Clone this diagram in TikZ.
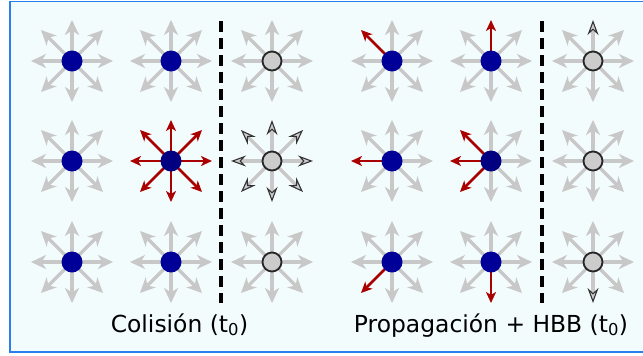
\documentclass[tikz,border=0pt]{standalone}
\usepackage{fontspec}
\setmainfont{DejaVu Sans}
\usetikzlibrary{arrows.meta,calc}
\definecolor{arrgray}{HTML}{C8C8C8}
\definecolor{arrred}{HTML}{AA0000}
\definecolor{dotblue}{HTML}{000099}
\definecolor{dotnavy}{HTML}{000080}
\definecolor{bgcyan}{HTML}{F3FCFD}
\definecolor{frameblue}{HTML}{2A7FEF}
\definecolor{hbbfill}{HTML}{CCCCCC}
\pgfdeclarelayer{back}
\pgfdeclarelayer{arrows}
\pgfsetlayers{back,arrows,main}
\tikzset{
  arrg/.style={draw=arrgray, line width=3.2bp, -{Stealth[length=15bp,width=14bp,inset=4.5bp]}},
  arrr/.style={draw=arrred, line width=2.5bp, -{Stealth[length=11bp,width=10bp,inset=3bp]}},
  arrh/.style={draw=arrgray, line width=3.2bp, -{Stealth[length=15bp,width=11bp,inset=5bp,fill=hbbfill,color=black!80,line width=1.1bp]}},
  kind/.style={arr#1},
  bdot/.style={circle, fill=dotblue, minimum size=21bp, inner sep=0pt},
  ndot/.style={circle, fill=dotnavy, minimum size=21bp, inner sep=0pt},
  gdot/.style={circle, fill=hbbfill, draw=black!85, line width=1.8bp, minimum size=19bp, inner sep=0pt},
  sep/.style={draw=black, line width=3.2bp, dash pattern=on 11bp off 6bp},
  lbl/.style={font=\fontsize{23.5}{28}\selectfont, text=black, anchor=base, inner sep=0pt}
}
\newcommand\drawcell[9]{%
  \begin{pgfonlayer}{arrows}
  \foreach \d/\dx/\dy/\s in {e/41/0/#2, ne/31/-31/#3, n/0/-41/#4, nw/-31/-31/#5, w/-41/0/#6, sw/-31/31/#7, s/0/41/#8, se/31/31/#9}{
    \coordinate (#1-\d) at ($(#1.center)+(\dx,\dy)$);
    \draw[kind/.expand once=\s] (#1.center) -- (#1-\d);
  }
  \end{pgfonlayer}}
\begin{document}
\begin{tikzpicture}[x=1bp,y=-1bp]
\useasboundingbox (0,0) rectangle (643,355);
\clip (0,0) rectangle (643,355);
\begin{pgfonlayer}{back}
\fill[white] (0,0) rectangle (643,355);
\fill[bgcyan] (10,1.5) rectangle (652,352);
\draw[frameblue, line width=1.8bp] (10,1.5) rectangle (652,352);
\end{pgfonlayer}
% left panel nodes
\node[bdot] (c11) at (72,61) {};
\node[bdot] (c12) at (171,61) {};
\node[gdot] (c13) at (272,61) {};
\node[bdot] (c21) at (72,161) {};
\node[ndot] (c22) at (171,161) {};
\node[gdot] (c23) at (272,161) {};
\node[bdot] (c31) at (72,262) {};
\node[bdot] (c32) at (171,262) {};
\node[gdot] (c33) at (272,262) {};
% right panel nodes
\node[bdot] (d11) at (392,61) {};
\node[bdot] (d12) at (491,61) {};
\node[gdot] (d13) at (593,61) {};
\node[bdot] (d21) at (392,161) {};
\node[ndot] (d22) at (491,161) {};
\node[gdot] (d23) at (593,161) {};
\node[bdot] (d31) at (392,262) {};
\node[bdot] (d32) at (491,262) {};
\node[gdot] (d33) at (593,262) {};
% arrows: E NE N NW W SW S SE
\drawcell{c11}{g}{g}{g}{g}{g}{g}{g}{g}
\drawcell{c12}{g}{g}{g}{g}{g}{g}{g}{g}
\drawcell{c13}{g}{g}{g}{g}{g}{g}{g}{g}
\drawcell{c21}{g}{g}{g}{g}{g}{g}{g}{g}
\drawcell{c22}{r}{r}{r}{r}{r}{r}{r}{r}
\drawcell{c23}{h}{h}{h}{h}{h}{h}{h}{h}
\drawcell{c31}{g}{g}{g}{g}{g}{g}{g}{g}
\drawcell{c32}{g}{g}{g}{g}{g}{g}{g}{g}
\drawcell{c33}{g}{g}{g}{g}{g}{g}{g}{g}
\drawcell{d11}{g}{g}{g}{r}{g}{g}{g}{g}
\drawcell{d12}{g}{g}{r}{g}{g}{g}{g}{g}
\drawcell{d13}{g}{g}{h}{g}{g}{g}{g}{g}
\drawcell{d21}{g}{g}{g}{g}{r}{g}{g}{g}
\drawcell{d22}{g}{g}{g}{r}{r}{r}{g}{g}
\drawcell{d23}{g}{g}{g}{g}{g}{g}{g}{g}
\drawcell{d31}{g}{g}{g}{g}{g}{r}{g}{g}
\drawcell{d32}{g}{g}{g}{g}{g}{g}{r}{g}
\drawcell{d33}{g}{g}{g}{g}{g}{g}{h}{g}
% separators
\coordinate (s1a) at (221,21);
\coordinate (s1b) at (221,303);
\coordinate (s2a) at (542,21);
\coordinate (s2b) at (542,303);
\draw[sep] (s1a) -- (s1b);
\draw[sep] (s2a) -- (s2b);
% labels
\node[lbl] (t1) at (179.5,332) {Colisión (t\textsubscript{0})};
\node[lbl] (t2) at (491,332) {Propagación + HBB (t\textsubscript{0})};
\end{tikzpicture}
\end{document}
